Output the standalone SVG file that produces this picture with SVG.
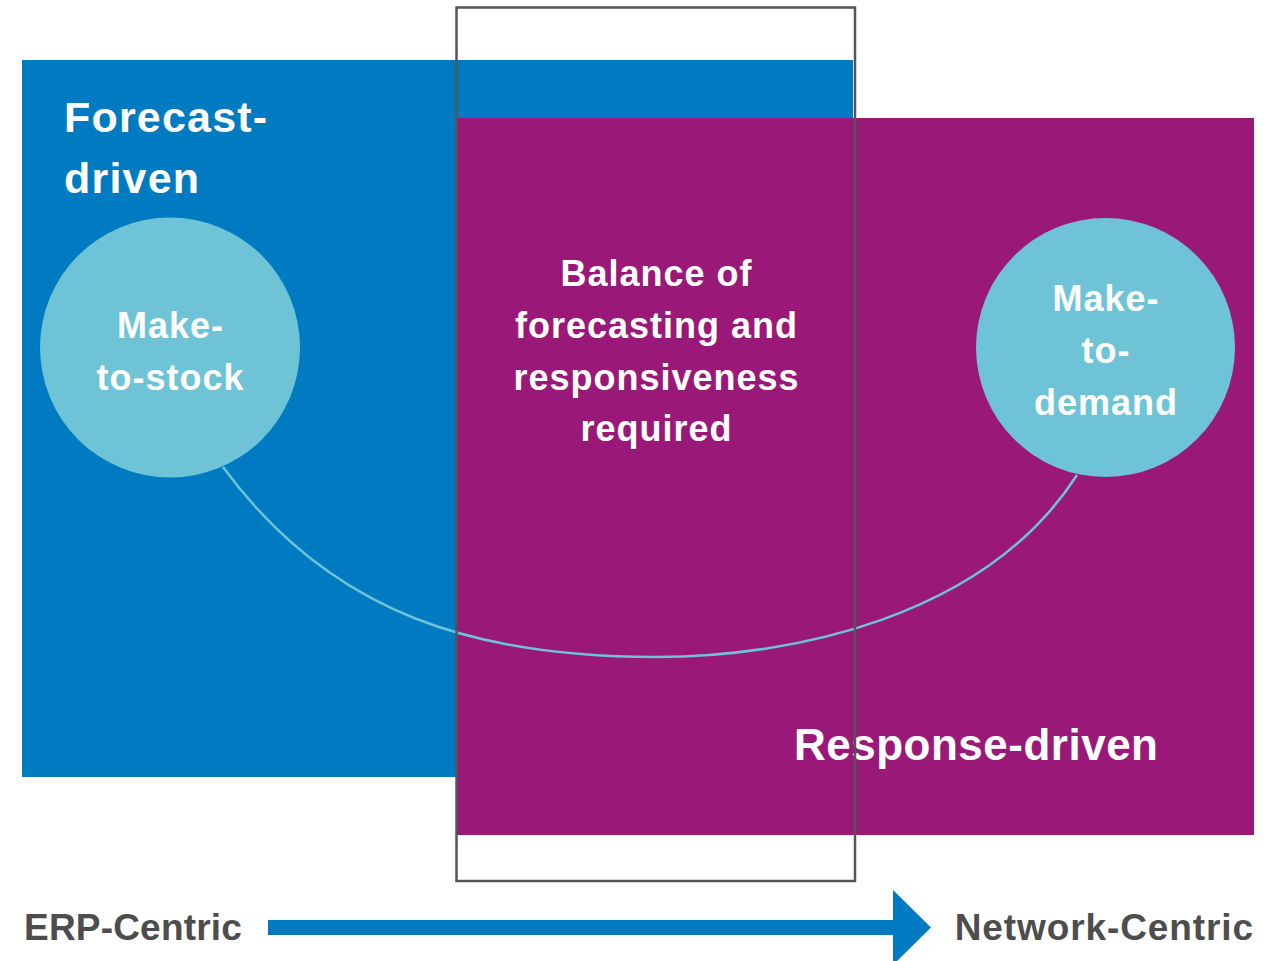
<svg xmlns="http://www.w3.org/2000/svg" width="1273" height="961" viewBox="0 0 1273 961">
<style>
.t{font-family:"Liberation Sans",Arial,sans-serif;font-weight:bold;fill:#ffffff;letter-spacing:1px}
.g{font-family:"Liberation Sans",Arial,sans-serif;font-weight:bold;fill:#4d4d4d;font-size:37px}
.c{fill:#6ec4d6}
</style>
<rect width="1273" height="961" fill="#ffffff"/>
<g id="forecast-driven">
<rect x="22" y="60" width="831" height="717" fill="#007bc2"/>
<text class="t" x="64" y="132" font-size="43" style="letter-spacing:1.2px">Forecast-</text>
<text class="t" x="64" y="193" font-size="43" style="letter-spacing:1.2px">driven</text>
</g>
<g id="response-driven">
<rect x="456" y="118" width="798" height="717" fill="#9a1878"/>
<text class="t" x="794" y="760" font-size="44" style="letter-spacing:0.5px">Response-driven</text>
</g>
<g id="connectors">
<path d="M223,467 C333,617 480,657 656,657 C790,657 985,618 1077,475" fill="none" stroke="#6ec4d6" stroke-width="2.5"/>
<path d="M268,920 H893 V890 L931,927.5 L893,965 V935 H268 Z" fill="#007bc2"/>
</g>
<g id="make-to-stock">
<circle class="c" cx="170" cy="347.5" r="130"/>
<text class="t" x="170.5" y="338" font-size="36" text-anchor="middle">Make-</text>
<text class="t" x="170.5" y="390" font-size="36" text-anchor="middle">to-stock</text>
</g>
<g id="make-to-demand">
<circle class="c" cx="1105.5" cy="347.5" r="129.5"/>
<text class="t" x="1106" y="311" font-size="36" text-anchor="middle">Make-</text>
<text class="t" x="1106" y="363" font-size="36" text-anchor="middle">to-</text>
<text class="t" x="1106" y="415" font-size="36" text-anchor="middle">demand</text>
</g>
<g id="balance">
<text class="t" x="656.5" y="286" font-size="36" text-anchor="middle">Balance of</text>
<text class="t" x="656.5" y="338" font-size="36" text-anchor="middle">forecasting and</text>
<text class="t" x="656.5" y="390" font-size="36" text-anchor="middle">responsiveness</text>
<text class="t" x="656.5" y="441" font-size="36" text-anchor="middle">required</text>
</g>
<g id="frame">
<rect x="456.5" y="7.5" width="398.5" height="873.5" fill="none" stroke="#555555" stroke-width="2.5"/>
</g>
<g id="erp-centric">
<text class="g" x="24" y="940" style="letter-spacing:0.2px">ERP-Centric</text>
</g>
<g id="network-centric">
<text class="g" x="1254" y="940" text-anchor="end" style="letter-spacing:0.9px">Network-Centric</text>
</g>
</svg>
